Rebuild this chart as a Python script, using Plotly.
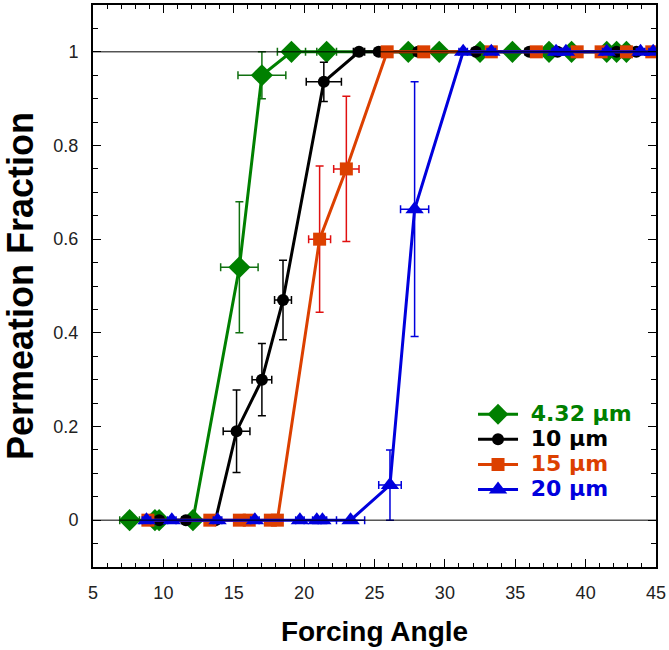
import plotly.graph_objects as go

# ---- data ----
g_x = [7.6, 9.4, 9.7, 12.1, 15.4, 17.0, 19.1, 21.6, 27.4, 29.6, 32.5, 34.8, 37.4, 39.0, 41.5, 42.2, 42.9]
g_y = [0, 0, 0, 0, 0.54, 0.95, 1, 1, 1, 1, 1, 1, 1, 1, 1, 1, 1]
g_xe = [0.7, 0.3, 0.3, 0.3, 1.33, 1.7, 1.0, 0.7, 0.3, 0.3, 0.3, 0.3, 0.3, 0.3, 0.3, 0.3, 0.3]
g_ye = [0, 0, 0, 0, 0.14, 0.05, 0, 0, 0, 0, 0, 0, 0, 0, 0, 0, 0]

k_x = [9.7, 11.6, 13.7, 15.2, 17.0, 18.5, 21.4, 23.9, 25.3, 28.1, 32.2, 36.0, 38.0, 42.2, 43.6]
k_y = [0, 0, 0, 0.19, 0.30, 0.47, 0.936, 1, 1, 1, 1, 1, 1, 1, 1]
k_xe = [0.3, 0.3, 0.3, 0.95, 0.7, 0.6, 1.25, 0.4, 0.3, 0.3, 0.3, 0.3, 0.3, 0.3, 0.3]
k_ye = [0, 0, 0, 0.088, 0.077, 0.085, 0.042, 0, 0, 0, 0, 0, 0, 0, 0]

r_x = [8.9, 13.3, 15.4, 16.1, 17.6, 18.1, 21.1, 23.0, 25.9, 28.5, 33.3, 36.5, 39.4, 41.1, 42.9, 44.7]
r_y = [0, 0, 0, 0, 0, 0, 0.60, 0.75, 1, 1, 1, 1, 1, 1, 1, 1]
r_xe = [0.3, 0.3, 0.3, 0.3, 0.3, 0.3, 0.78, 0.9, 0.3, 0.3, 0.3, 0.3, 0.3, 0.3, 0.3, 0.3]
r_ye = [0, 0, 0, 0, 0, 0, 0.156, 0.155, 0, 0, 0, 0, 0, 0, 0, 0]

b_x = [8.8, 10.6, 13.85, 16.5, 19.7, 20.9, 21.3, 23.3, 26.1, 27.85, 31.3, 33.3, 37.9, 38.6, 41.5, 43.9, 44.8]
b_y = [0, 0, 0, 0, 0, 0, 0, 0, 0.075, 0.664, 1, 1, 1, 1, 1, 1, 1]
b_xe = [0.3, 0.3, 0.3, 0.3, 0.3, 0.3, 0.3, 1.0, 0.8, 1.0, 0.3, 0.3, 0.3, 0.3, 0.3, 0.3, 0.3]
b_ye = [0, 0, 0, 0, 0, 0, 0, 0, 0.075, 0.272, 0, 0, 0, 0, 0, 0, 0]

x_ticks = [5, 10, 15, 20, 25, 30, 35, 40, 45]
y_ticks = [0, 0.2, 0.4, 0.6, 0.8, 1]
y_tick_text = ["0", "0.2", "0.4", "0.6", "0.8", "1"]

series = [
    ("4.32 μm", g_x, g_y, g_xe, g_ye, "#008000", "#107010", "diamond", 17),
    ("10 μm", k_x, k_y, k_xe, k_ye, "#000000", "#000000", "circle", 12),
    ("15 μm", r_x, r_y, r_xe, r_ye, "#dc4000", "#e01010", "square", 13),
    ("20 μm", b_x, b_y, b_xe, b_ye, "#0000dd", "#0000dd", "triangle-up", 16),
]

fig = go.Figure()
for name, xs, ys, xe, ye, col, ecol, sym, sz in series:
    fig.add_trace(go.Scatter(
        x=xs, y=ys, mode="lines+markers",
        name=f'<span style="color:{col};font-size:22px"><b>\u00a0{name}</b></span>',
        line=dict(color=col, width=3),
        marker=dict(symbol=sym, size=sz, color=col, line=dict(width=0)),
        error_x=dict(type="data", array=xe, visible=True, color=ecol, thickness=1.5, width=4),
        error_y=dict(type="data", array=ye, visible=True, color=ecol, thickness=1.5, width=4),
    ))

for yv in [0, 1]:
    fig.add_shape(type="line", xref="paper", x0=0, x1=1, yref="y", y0=yv, y1=yv,
                  line=dict(color="black", width=1), layer="above")

axis_font = dict(family="Liberation Sans, Arial", size=18, color="#222")
fig.update_xaxes(
    range=[5, 45], tickvals=x_ticks, ticktext=[str(v) for v in x_ticks],
    ticks="inside", ticklen=8, tickcolor="black", ticklabelstandoff=8,
    showline=True, linecolor="black", linewidth=2, mirror="ticks",
    showgrid=False, zeroline=False, tickfont=axis_font,
    minor=dict(dtick=1, tick0=5, ticks="inside", ticklen=4, tickcolor="black", showgrid=False),
    title=dict(text="<b>Forcing Angle</b>", font=dict(family="Liberation Sans, Arial", size=28, color="black"), standoff=20),
)
fig.update_yaxes(
    range=[-0.1, 1.1], tickvals=y_ticks, ticktext=y_tick_text,
    ticks="inside", ticklen=8, tickcolor="black", ticklabelstandoff=9,
    showline=True, linecolor="black", linewidth=2, mirror="ticks",
    showgrid=False, zeroline=False, tickfont=axis_font,
    minor=dict(dtick=0.05, tick0=0, ticks="inside", ticklen=5, tickcolor="black", showgrid=False),
    title=dict(text="<b>Permeation Fraction</b>", font=dict(family="Liberation Sans, Arial", size=36, color="black"), standoff=12),
)
fig.update_layout(
    width=669, height=650,
    margin=dict(l=93, r=11, t=3, b=83),
    plot_bgcolor="white", paper_bgcolor="white",
    showlegend=True,
    legend=dict(x=0.675, y=0.303, xanchor="left", yanchor="top",
                bgcolor="rgba(0,0,0,0)", font=dict(family="DejaVu Sans", size=17),
                tracegroupgap=0, itemwidth=40),
)
fig.write_html("out.html")
